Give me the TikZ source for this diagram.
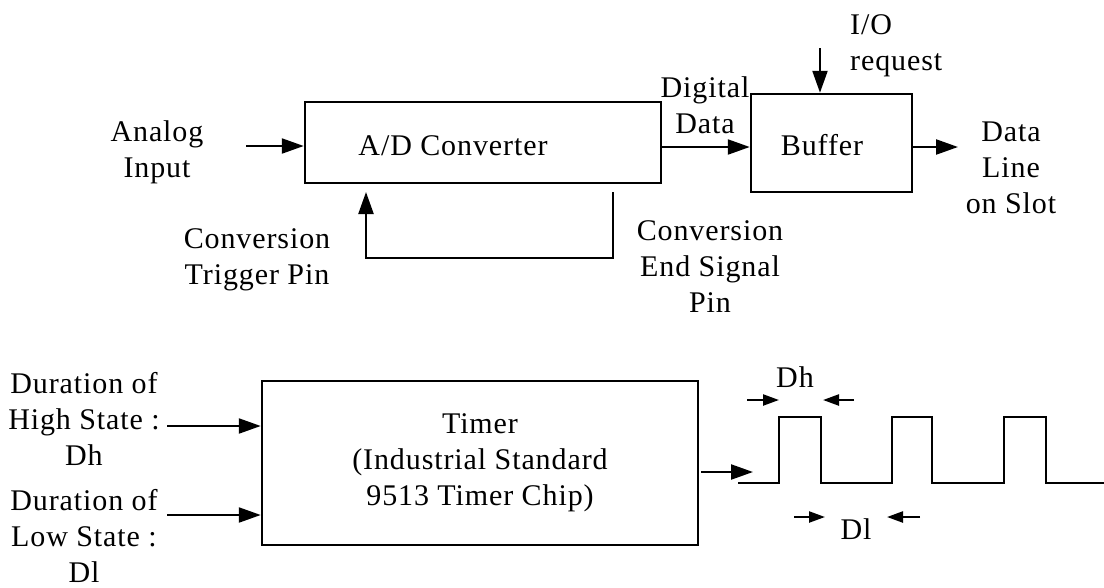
\documentclass[tikz,border=0pt]{standalone}
\usepackage{fontspec}
\setmainfont{Liberation Serif}[LetterSpace=3]
\usetikzlibrary{arrows.meta}
\begin{document}
\begin{tikzpicture}[x=1pt,y=-1pt,
  box/.style={draw, line width=2.5pt, inner sep=0pt},
  txt/.style={inner sep=0pt, align=center, font=\fontsize{30}{36}\selectfont},
  arr/.style={line width=2.3pt, -{Triangle[length=22pt,width=15pt]}},
  sarr/.style={line width=2.3pt, -{Triangle[length=16pt,width=11pt]}},
  wire/.style={line width=2.5pt}]
\useasboundingbox (0,0) rectangle (1104,587);
% boxes
\node[box, minimum width=356pt, minimum height=81pt] (ad) at (483,142.5) {};
\node[txt, anchor=base] (adt) at (453,155) {A/D Converter};
\node[box, minimum width=161pt, minimum height=98pt] (buf) at (831.5,143) {};
\node[txt, anchor=base] (buft) at (822,155) {Buffer};
\node[box, txt, draw, line width=2.5pt, minimum width=436pt, minimum height=164pt] (tim) at (480,463)
  {Timer\\(Industrial Standard\\9513 Timer Chip)};
% labels
\node[txt] (ain) at (157,152.5) {Analog\\Input};
\node[txt] (trig) at (257,260) {Conversion\\Trigger Pin};
\node[txt] (cend) at (710,267) {Conversion\\End Signal\\Pin};
\node[txt] (dd) at (705,105) {Digital\\Data};
\node[txt, anchor=west, align=left] (io) at (850,45.5) {I/O\\request};
\node[txt] (dline) at (1011,168) {Data\\Line\\on Slot};
\node[txt] (hi) at (84,419) {Duration of\\High State :\\Dh};
\node[txt] (lo) at (84,536) {Duration of\\Low State :\\Dl};
\node[txt, anchor=base] (dh) at (795,387) {Dh};
\node[txt, anchor=base] (dl) at (856,539) {Dl};
% coordinates
\coordinate (a0) at (246,146);
\coordinate (d0) at (700,147);
\coordinate (o1) at (958,147);
\coordinate (i0) at (820,48);
\coordinate (eA) at (613,192);
\coordinate (tA) at (366,192);
\coordinate (h0) at (167,426);
\coordinate (l0) at (167,515);
\coordinate (t0) at (701,472);
\coordinate (t1) at (753,472);
% connectors
\draw[arr] (a0) -- (a0 -| ad.west);
\draw[arr] (d0 -| ad.east) -- (d0 -| buf.west);
\draw[arr] (o1 -| buf.east) -- (o1);
\draw[arr] (i0) -- (i0 |- buf.north);
\draw[arr] (eA) -- ++(0,66) -| (tA);
\draw[arr] (h0) -- (h0 -| tim.west);
\draw[arr] (l0) -- (l0 -| tim.west);
\draw[arr] (t0) -- (t1);
% square wave
\draw[wire] (738,483) -- (779,483) -- (779,417) -- (821,417) -- (821,483) -- (892,483) -- (892,417) -- (932,417) -- (932,483) -- (1004,483) -- (1004,417) -- (1046,417) -- (1046,483) -- (1104,483);
% duration markers
\coordinate (dh1) at (747,400);
\coordinate (dh2) at (779,400);
\coordinate (dh3) at (854,400);
\coordinate (dh4) at (823,400);
\coordinate (dl1) at (794,517);
\coordinate (dl2) at (825,517);
\coordinate (dl3) at (920,517);
\coordinate (dl4) at (887,517);
\draw[sarr] (dh1) -- (dh2);
\draw[sarr] (dh3) -- (dh4);
\draw[sarr] (dl1) -- (dl2);
\draw[sarr] (dl3) -- (dl4);
\end{tikzpicture}
\end{document}
